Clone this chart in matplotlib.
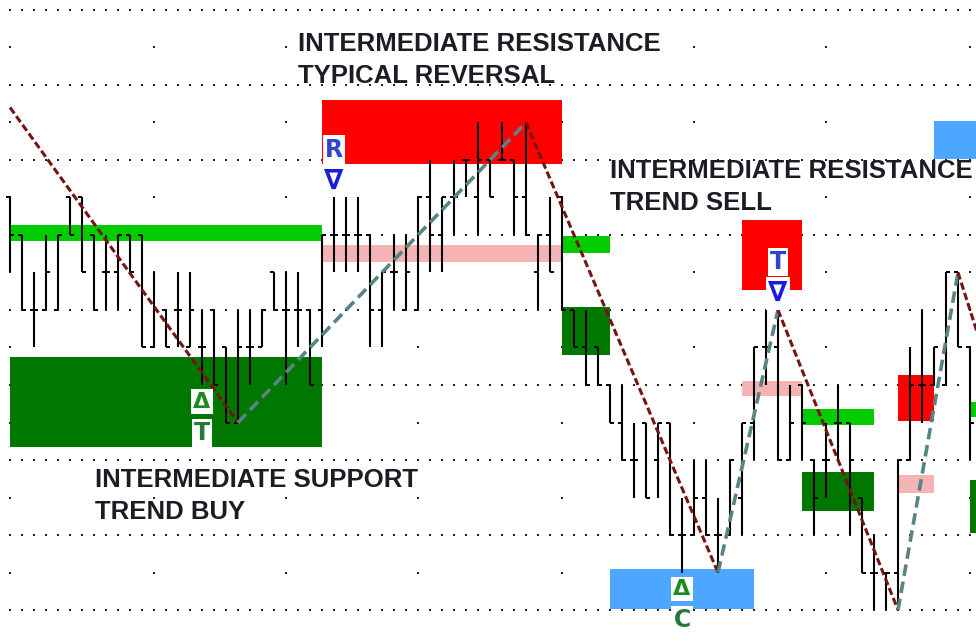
import matplotlib
matplotlib.use("Agg")
import matplotlib.pyplot as plt

# bars: one per index, prices in tick steps
highs = [11, 10, 9, 10, 10, 11, 11, 10, 10, 10, 10, 10, 9, 8, 9, 9, 8, 8, 7, 8,
         8, 8, 9, 9, 9, 8, 10, 11, 11, 11, 10, 9, 10, 10, 11, 12, 11, 12, 12, 13,
         12, 13, 12, 13, 10, 11, 11, 8, 8, 7, 6, 6, 5, 5, 5, 5, 3, 4, 4, 3,
         4, 5, 7, 8, 8, 6, 6, 4, 5, 6, 5, 3, 2, 1, 4, 7, 8, 7, 9, 9, 7]
lows = [9, 8, 7, 8, 8, 10, 9, 8, 8, 8, 9, 7, 7, 7, 7, 7, 6, 6, 5, 5,
        6, 7, 8, 6, 7, 6, 7, 9, 9, 9, 7, 7, 8, 8, 8, 9, 9, 10, 11, 10,
        11, 12, 10, 10, 8, 9, 8, 7, 6, 6, 5, 4, 3, 3, 3, 2, 1, 2, 2, 1,
        2, 2, 4, 6, 4, 4, 4, 2, 3, 4, 2, 1, 0, 0, 0, 4, 5, 6, 6, 7, 4]
opens = [11, 10, 8, 8, 8, 11, 11, 10, 9, 9, 10, 10, 7, 8, 8, 7, 7, 8, 7, 5,
         7, 7, 9, 8, 8, 8, 8, 10, 10, 10, 10, 8, 9, 8, 8, 11, 10, 11, 12, 11,
         12, 12, 12, 11, 9, 10, 11, 8, 7, 7, 6, 5, 4, 5, 4, 5, 2, 2, 3, 2,
         2, 3, 5, 7, 7, 4, 6, 4, 4, 5, 5, 3, 1, 1, 1, 4, 6, 6, 6, 9, 7]
closes = [10, 8, 8, 9, 10, 10, 9, 8, 9, 10, 9, 7, 8, 7, 8, 8, 7, 6, 5, 7,
          7, 8, 8, 8, 8, 6, 10, 10, 10, 10, 8, 9, 9, 9, 11, 10, 11, 11, 12, 12,
          11, 12, 11, 10, 10, 9, 8, 7, 6, 6, 5, 4, 4, 3, 5, 2, 2, 3, 2, 2,
          4, 5, 7, 7, 4, 5, 5, 3, 4, 5, 4, 1, 1, 1, 4, 6, 6, 7, 9, 7, 5]

# zigzag pivots (bar, price)
zz_bar = [0, 19, 43, 59, 64, 74, 79, 81]
zz_price = [13.4, 5, 13, 1, 8, 0, 9, 7]

# support / resistance zones
zone_start = [0, 0, 26, 26, 46, 46, 50, 61, 61, 66, 66, 74, 74, 80, 80, 77]
zone_end = [26, 26, 46, 46, 50, 50, 62, 66, 66, 72, 72, 77, 77, 82, 82, 82]
zone_low = [9.84, 4.35, 11.9, 9.28, 9.53, 6.8, 0.03, 8.52, 5.7, 4.93, 2.64, 5.03, 3.12, 5.16, 2.05, 12.03]
zone_high = [10.27, 6.75, 13.6, 9.73, 9.96, 8.08, 1.1, 10.39, 6.1, 5.36, 3.69, 6.27, 3.6, 5.56, 3.47, 13.05]
zone_kind = ["sup_line", "sup", "res", "res_line", "sup_line", "sup", "cycle", "res", "res_line",
             "sup_line", "sup", "res", "res_line", "sup_line", "sup", "cycle"]
zone_colors = {"sup_line": "#00cc00", "sup": "#007800", "res": "#ff0000",
               "res_line": "#f5b3b3", "cycle": "#4da6ff"}

# signals
sig_bar = [16, 27, 56, 64]
sig_side = ["buy", "sell", "buy", "sell"]
sig_letter = ["T", "R", "C", "T"]

notes = [("INTERMEDIATE RESISTANCE", 298, 51), ("TYPICAL REVERSAL", 298, 83),
         ("INTERMEDIATE RESISTANCE", 610, 178), ("TREND SELL", 610, 210),
         ("INTERMEDIATE SUPPORT", 95, 487), ("TREND BUY", 95, 519)]

W, H = 976, 644
fig = plt.figure(figsize=(W / 100, H / 100), dpi=100)
ax = fig.add_axes([0, 0, 1, 1])
ax.set_xlim(-10 / 12, (W - 10) / 12)
ax.set_ylim(16 - (H - 10) / 37.5, 16 + 10 / 37.5)
ax.axis("off")

# dotted grid
n = len(highs)
dx, dy = [], []
for p in range(0, 17, 2):
    for i in range(n):
        dx.append(i)
        dy.append(p)
for p in range(1, 18, 2):
    for i in [0, 12, 23, 34, 46, 57, 68, 80]:
        dx.append(i)
        dy.append(p)
ax.scatter(dx, dy, s=2.2, marker="s", color="#222222", linewidths=0, zorder=1)

# zones
for x0, x1, lo, hi, k in zip(zone_start, zone_end, zone_low, zone_high, zone_kind):
    ax.bar(x0, hi - lo, width=x1 - x0, bottom=lo, align="edge",
           color=zone_colors[k], linewidth=0, zorder=2)

# ohlc bars
idx = list(range(n))
ax.vlines(idx, lows, highs, color="black", lw=1.5, zorder=3)
ax.hlines(opens, [i - 0.33 for i in idx], idx, color="black", lw=1.4, zorder=3)
ax.hlines(closes, idx, [i + 0.33 for i in idx], color="black", lw=1.4, zorder=3)

# zigzag legs
for j in range(len(zz_bar) - 1):
    xs = zz_bar[j:j + 2]
    ys = zz_price[j:j + 2]
    if ys[1] < ys[0]:
        ax.plot(xs, ys, color="#741414", lw=2.2, dashes=(2.4, 1.1), zorder=4)
    else:
        ax.plot(xs, ys, color="#578585", lw=2.6, dashes=(3.2, 1.6), zorder=4)

# signal markers
box = dict(fc="white", ec="none", pad=1.6)
for b, side, let in zip(sig_bar, sig_side, sig_letter):
    if side == "sell":
        y, sgn, tc, lc, tri, fs = highs[b], 1, "#1a1ae0", "#2f45d0", "\u2207", 20
    else:
        y, sgn, tc, lc, tri, fs = lows[b], -1, "#1c8a1c", "#237a3a", "\u0394", 16
    ax.annotate(tri, (b, y), xytext=(0, sgn * 12), textcoords="offset points",
                ha="center", va="center", fontsize=fs, fontweight="bold",
                color=tc, family="DejaVu Sans", bbox=box, zorder=5)
    ax.annotate(let, (b, y), xytext=(0, sgn * 34.5), textcoords="offset points",
                ha="center", va="center", fontsize=17, fontweight="bold", color=lc,
                family="DejaVu Sans", bbox=box, zorder=5)

for txt, x, y in notes:
    fig.text(x / W, 1 - y / H, txt, ha="left", va="baseline", fontsize=18.5,
             fontweight="bold", color="#1c1c24", family="Liberation Sans", zorder=6)

fig.savefig("out.png", dpi=100)
